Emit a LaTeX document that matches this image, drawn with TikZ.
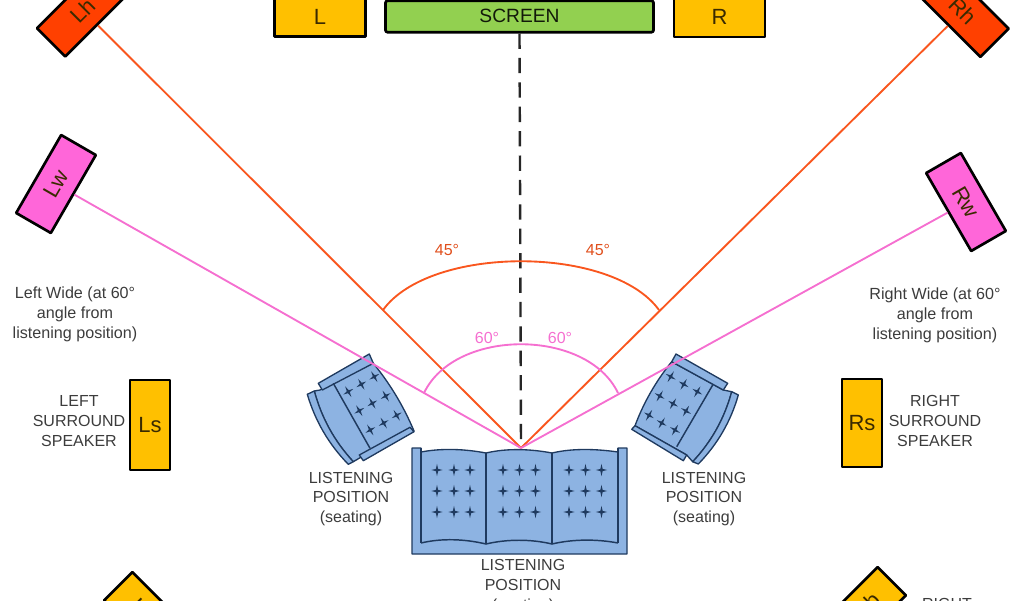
\documentclass[tikz,border=0pt]{standalone}
\usepackage{fontspec}
\setmainfont{Liberation Sans}
\definecolor{seatblue}{HTML}{8DB3E2}
\definecolor{seatline}{HTML}{1F3A5F}
\definecolor{amber}{HTML}{FFC000}
\definecolor{hired}{HTML}{FF4000}
\definecolor{widepink}{HTML}{FF66D9}
\definecolor{pinkline}{HTML}{F56FD0}
\definecolor{redline}{HTML}{F9561E}
\definecolor{scrgreen}{HTML}{92D050}
\definecolor{txt}{HTML}{3C3C3C}
\definecolor{spktxt}{HTML}{3A2A00}
\tikzset{
  x=0.75pt,y=-0.75pt,
  spk/.style={draw=black,line width=2pt,inner sep=0pt,text=spktxt,font=\fontsize{16.5}{18}\selectfont,minimum width=67.5pt,minimum height=30pt,line join=round},
  spkup/.style={spk,minimum width=30pt,minimum height=67.5pt},
  amberbox/.style={spk,fill=amber},
  redbox/.style={spk,fill=hired},
  pinkbox/.style={spk,fill=widepink},
  note/.style={align=center,text=txt,inner sep=0pt,font=\fontsize{12}{14.7}\selectfont},
  widenote/.style={note,font=\fontsize{12.1}{14.9}\selectfont},
  ang/.style={inner sep=0pt,font=\fontsize{12}{14}\selectfont},
  seat/.style={draw=seatline,fill=seatblue,line width=1pt,line join=round},
  seatedge/.style={draw=seatline,line width=1.1pt},
  wire/.style={line width=1.4pt},
  cushstar/.pic={\fill[seatline] (0,-6.2)--(1.1,-1.1)--(5.6,0)--(1.1,1.1)--(0,6.2)--(-1.1,1.1)--(-5.6,0)--(-1.1,-1.1)--cycle;}
}
\begin{document}
\begin{tikzpicture}
\useasboundingbox (0,0) rectangle (1024,600);
\clip (0,0) rectangle (1024,600);
% sofa
\draw[seat] (412,448) -- (421,448) -- (421,452) .. controls (442,448) and (465,449) .. (486,453) .. controls (507,448) and (531,449) .. (552,453) .. controls (573,448) and (597,449) .. (618,452) -- (618,448) -- (627,448) -- (627,554) -- (412,554) -- cycle;
\draw[seatedge] (421,448)--(421,543);
\draw[seatedge] (618,448)--(618,543);
\draw[seatedge] (486,453)--(486,544) (552,453)--(552,544);
\draw[seatedge] (421,543) .. controls (442,538) and (465,539) .. (486,544) .. controls (507,539) and (531,539) .. (552,544) .. controls (573,539) and (597,539) .. (618,543);
\foreach \xx in {437,454,470,503,519.5,535.5,569,585.5,601.5}
  \foreach \yy in {470,491,512}
    \pic at (\xx,\yy) {cushstar};
% left chair
\draw[seat] (314.3,391) .. controls (321.5,418) and (334.5,441.4) .. (353.3,461.7) -- (363,456) -- (414,431) .. controls (403.9,407) and (390.4,384) .. (373,363) -- (320,390) -- cycle;
\draw[seat] (307.3,394.3) .. controls (315.2,421) and (328.8,444.4) .. (348.3,464.3) -- (353.3,461.7) .. controls (334.5,441.4) and (321.5,418) .. (314.3,391) -- cycle;
\draw[seat] (318.3,383.3) -- (369.3,354) -- (373.3,363.3) -- (322.3,390) -- cycle;
\draw[seat] (359.3,455) -- (410,427.3) -- (414,431.7) -- (363.3,460.7) -- cycle;
\draw[seatedge] (333.3,383.3) -- (370,448.3);
\foreach \xx/\yy in {374.3/376.7,361.3/384.3,348.3/391.7,385.7/396,372.3/403.3,359.3/410.7,396.7/415.3,383.7/423,370.3/430}
  \pic[rotate=30] at (\xx,\yy) {cushstar};
% right chair
\draw[seat] (731.7,391.7) .. controls (724.5,418.4) and (711.5,441.7) .. (692.7,461.7) -- (686.7,455) -- (635,425.7) .. controls (643.7,402.4) and (656,381) .. (671.7,361.7) -- (723.3,390) -- cycle;
\draw[seat] (738.3,395) .. controls (730.8,421.4) and (717.4,444.4) .. (698.3,464) -- (692.7,461.7) .. controls (711.5,441.7) and (724.5,418.4) .. (731.7,391.7) -- cycle;
\draw[seat] (676,354) -- (727.7,383.3) -- (723.3,390) -- (671.7,361.7) -- cycle;
\draw[seat] (631.7,429.3) -- (635,425.7) -- (686.7,455) -- (683.3,460.7) -- cycle;
\draw[seatedge] (712.7,385) -- (676.7,446.7);
\foreach \xx/\yy in {670.7/376.7,683.7/384.3,697.3/391.7,659.7/396,673/403.7,686/411,649/415.3,661.7/423,675/430}
  \pic[rotate=-30] at (\xx,\yy) {cushstar};
% speakers and screen
\node[amberbox,minimum width=68.25pt,minimum height=30pt] (L) at (320,16.5) {L};
\node[amberbox,minimum width=68.25pt,minimum height=30pt] (R) at (719.5,17) {R};
\node[draw=black,fill=scrgreen,line width=2pt,rounded corners=1.5pt,minimum width=201pt,minimum height=23.5pt,inner sep=0pt,text=black!70!scrgreen!40!black,font=\fontsize{14.4}{16}\selectfont] (screen) at (519.5,16.5) {\raisebox{1.5pt}{SCREEN}};
\node[redbox,rotate=45] (Lh) at (83,10.5) {Lh};
\node[redbox,rotate=-45] (Rh) at (962.7,11) {Rh};
\node[pinkbox,rotate=60] (Lw) at (56,184) {Lw};
\node[pinkbox,rotate=-60] (Rw) at (966,202) {Rw};
\node[spkup,fill=amber] (Ls) at (150,425) {Ls};
\node[spkup,fill=amber,minimum height=66pt] (Rs) at (862,423) {Rs};
\node[amberbox,rotate=-45,minimum width=52.5pt] (Lb) at (143,611) {Lb};
\node[amberbox,rotate=45,minimum width=52.5pt] (Rb) at (867,606) {Rb};
% connectors
\coordinate (apex) at (521,448);
\draw[line width=1.8pt,black!85,dash pattern=on 11.5pt off 6.8pt] (screen.south) -- (apex);
\draw[wire,redline] (Lh.south) -- (apex);
\draw[wire,redline] (Rh.south) -- (apex);
\draw[wire,pinkline] (Lw.south) -- (apex);
\draw[wire,pinkline] (Rw.south) -- (apex);
% arcs
\coordinate (oa) at (383,310);
\coordinate (ob) at (659,310);
\coordinate (pa) at (424,393);
\coordinate (pb) at (618,393);
\draw[wire,redline] (oa) .. controls (430,245) and (612,245) .. (ob);
\draw[wire,pinkline] (pa) .. controls (455,328) and (587,328) .. (pb);
% labels
\node[ang,text=redline!90!black] (a45l) at (447,250) {45°};
\node[ang,text=redline!90!black] (a45r) at (598,250) {45°};
\node[ang,text=pinkline] (a60l) at (487,338) {60°};
\node[ang,text=pinkline] (a60r) at (560,338) {60°};
\node[widenote] (lwide) at (75,314) {Left Wide (at 60°\\angle from\\listening position)};
\node[widenote] (rwide) at (935,315) {Right Wide (at 60°\\angle from\\listening position)};
\node[note] (lsur) at (79,421) {LEFT\\SURROUND\\SPEAKER};
\node[note] (rsur) at (935,421) {RIGHT\\SURROUND\\SPEAKER};
\node[note] (lchair) at (351,499) {LISTENING\\POSITION\\(seating)};
\node[note] (rchair) at (704,499) {LISTENING\\POSITION\\(seating)};
\node[note] (sofa) at (523,586.5) {LISTENING\\POSITION\\(seating)};
\node[note] (rrear) at (947,604) {RIGHT};
\end{tikzpicture}
\end{document}
